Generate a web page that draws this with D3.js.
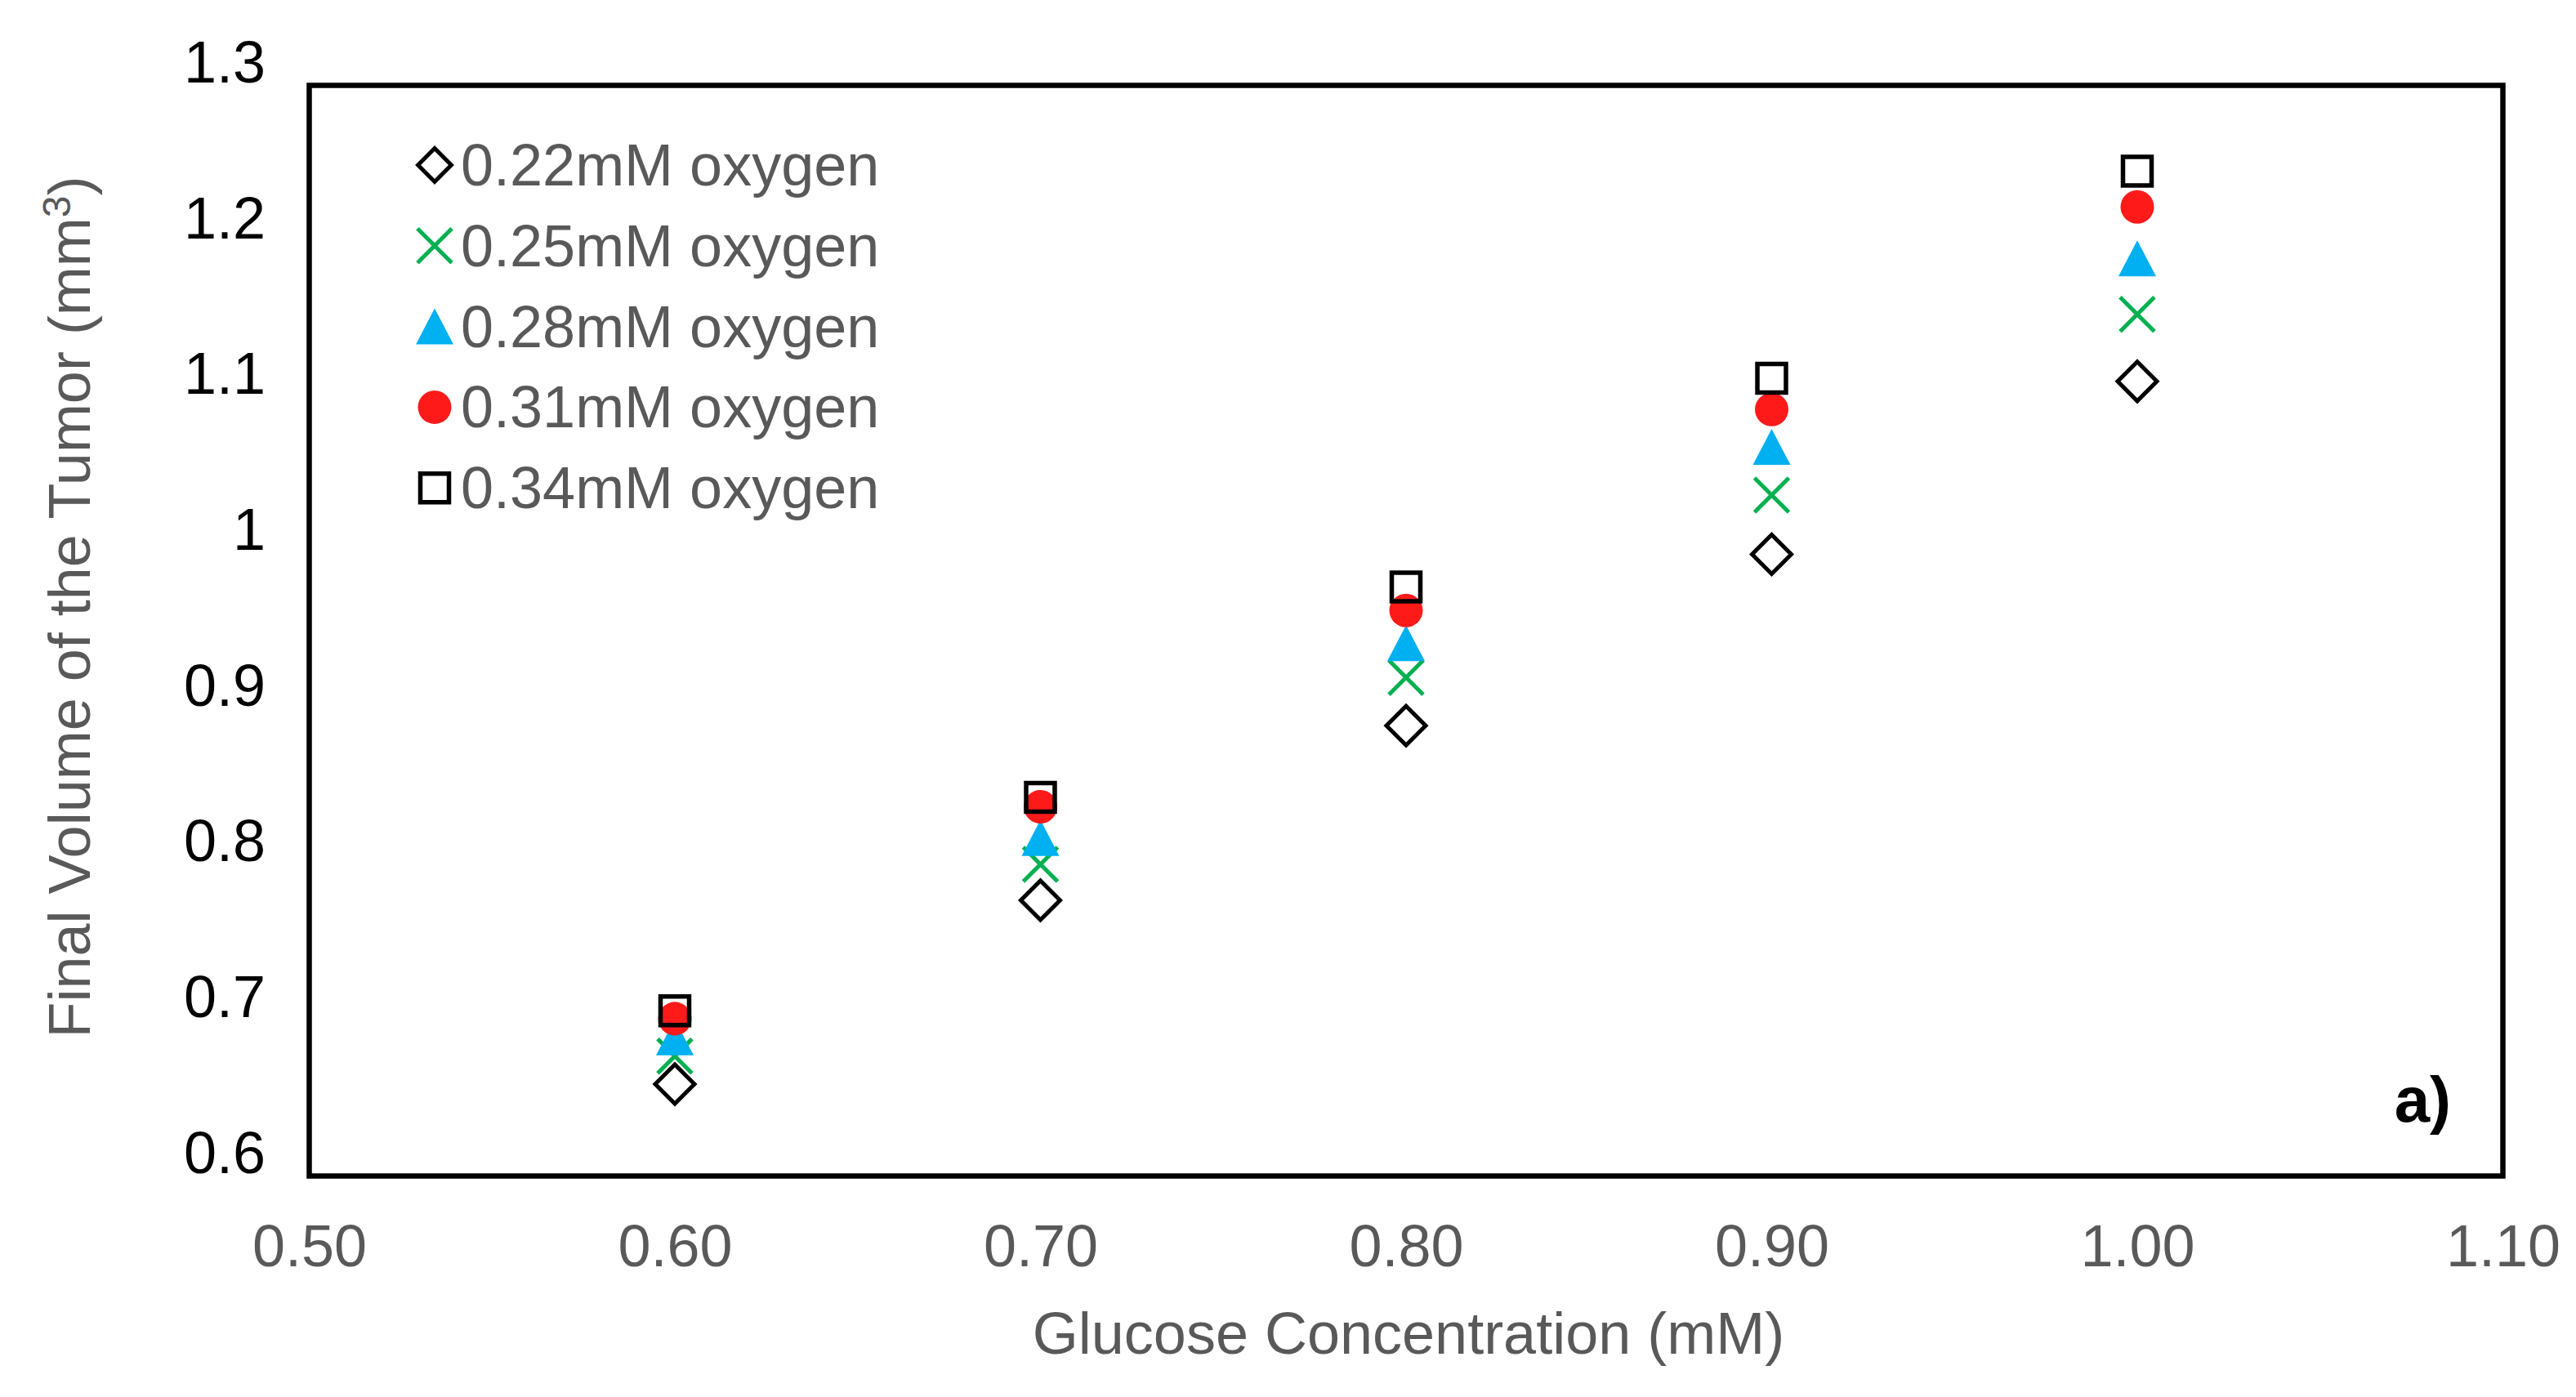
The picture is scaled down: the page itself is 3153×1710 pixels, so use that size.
<!DOCTYPE html>
<html>
<head>
<meta charset="utf-8">
<title>Final Volume of the Tumor</title>
<script src="https://cdn.jsdelivr.net/npm/d3@7"></script>
<style>
	html, body { margin: 0; padding: 0; background: #fff; }
	svg { display: block; font-family: "Liberation Sans", Arial, sans-serif; }
</style>
</head>
<body>
<div id="chart"></div>
<script>
(function (d3, window) {

	// glucose concentration (mM) on the x axis
	var glucose = [0.60, 0.70, 0.80, 0.90, 1.00];

	var series_names = ['0.22mM oxygen', '0.25mM oxygen', '0.28mM oxygen', '0.31mM oxygen', '0.34mM oxygen'];

	// final tumor volume (mm3), one array per oxygen level
	var vol_022 = [0.659, 0.777, 0.889, 0.999, 1.110];
	var vol_025 = [0.677, 0.800, 0.920, 1.037, 1.153];
	var vol_028 = [0.689, 0.817, 0.942, 1.068, 1.189];
	var vol_031 = [0.701, 0.837, 0.963, 1.092, 1.222];
	var vol_034 = [0.706, 0.843, 0.978, 1.112, 1.245];

	var x_ticks = [0.50, 0.60, 0.70, 0.80, 0.90, 1.00, 1.10];
	var y_ticks = [0.6, 0.7, 0.8, 0.9, 1.0, 1.1, 1.2, 1.3];

	var width = 3153;
	var height = 1710;
	var frame = {left: 378.5, right: 3063.5, top: 104.5, bottom: 1439.5};

	var grey = '#595959';
	var font_size = 72;

	// marker look for each series, same order as series_names
	var marker_styles = [
		{shape: 'diamond',  color: '#000000'},
		{shape: 'cross',    color: '#00b050'},
		{shape: 'triangle', color: '#00b0f0'},
		{shape: 'circle',   color: '#ff1a1a'},
		{shape: 'square',   color: '#000000'}
	];

	var all_values = [vol_022, vol_025, vol_028, vol_031, vol_034];

	var x = d3.scaleLinear().domain([0.5, 1.1]).range([frame.left, frame.right]);
	var y = d3.scaleLinear().domain([0.6, 1.3]).range([frame.bottom, frame.top]);

	/**
	 * Path for one marker, drawn round 0,0.
	 * k shrinks the diamond a little for the legend.
	 */
	function marker_path(shape, k) {
		k = k || 1;
		var p = d3.path();
		if ( 'diamond' == shape ) {
			var d = 24 * k;
			p.moveTo(0, -d); p.lineTo(d, 0); p.lineTo(0, d); p.lineTo(-d, 0); p.closePath();
		} else if ( 'cross' == shape ) {
			var c = 21;
			p.moveTo(-c, -c); p.lineTo(c, c);
			p.moveTo(c, -c); p.lineTo(-c, c);
		} else if ( 'triangle' == shape ) {
			p.moveTo(0, -22); p.lineTo(23, 22); p.lineTo(-23, 22); p.closePath();
		} else if ( 'circle' == shape ) {
			p.arc(0, 0, 20.5, 0, 2 * Math.PI);
		} else {
			var s = 17.5;
			p.rect(-s, -s, 2 * s, 2 * s);
		}
		return p.toString();
	}

	function style_marker(sel, st) {
		var filled = ( 'triangle' == st.shape || 'circle' == st.shape );
		sel.attr('fill', filled ? st.color : 'none')
			.attr('stroke', filled ? 'none' : st.color)
			.attr('stroke-width', 'square' == st.shape ? 5.5 : 5)
			.attr('stroke-linejoin', 'miter');
	}

	var svg = d3.select('#chart').append('svg')
		.attr('width', width)
		.attr('height', height)
		.attr('viewBox', '0 0 ' + width + ' ' + height);

	svg.append('rect').attr('width', width).attr('height', height).attr('fill', '#fff');

	// x axis labels sit under the frame
	var x_axis = svg.append('g')
		.attr('transform', 'translate(0,' + frame.bottom + ')')
		.call(d3.axisBottom(x).tickValues(x_ticks).tickFormat(d3.format('.2f')).tickSize(0).tickPadding(59.5));
	x_axis.select('.domain').remove();
	x_axis.selectAll('text')
		.attr('font-size', font_size)
		.attr('font-family', null)
		.attr('fill', grey);

	// y labels are drawn about 30px higher than the frame in the original
	var y_axis = svg.append('g')
		.attr('transform', 'translate(' + frame.left + ',-30)')
		.call(d3.axisLeft(y).tickValues(y_ticks).tickFormat(d3.format('')).tickSize(0).tickPadding(53.5));
	y_axis.select('.domain').remove();
	y_axis.selectAll('text')
		.attr('font-size', font_size)
		.attr('font-family', null)
		.attr('dy', '0.36em')
		.attr('fill', '#000');

	// plot area border
	svg.append('rect')
		.attr('x', frame.left)
		.attr('y', frame.top)
		.attr('width', frame.right - frame.left)
		.attr('height', frame.bottom - frame.top)
		.attr('fill', 'none')
		.attr('stroke', '#000')
		.attr('stroke-width', 6.5);

	// series, first one at the back like the spreadsheet does it
	all_values.forEach(function (values, i) {
		var st = marker_styles[i];
		var pts = glucose.map(function (g, j) { return {x: g, y: values[j]}; });
		svg.append('g')
			.attr('class', 'series series-' + i)
			.selectAll('path')
			.data(pts)
			.enter()
			.append('path')
			.attr('d', marker_path(st.shape))
			.attr('transform', function (d) { return 'translate(' + x(d.x) + ',' + y(d.y) + ')'; })
			.call(style_marker, st);
	});

	// legend in the top left of the plot
	var legend = svg.append('g').attr('transform', 'translate(532,202)');
	var rows = legend.selectAll('g')
		.data(series_names)
		.enter()
		.append('g')
		.attr('transform', function (d, i) { return 'translate(0,' + (i * 98.8) + ')'; });

	rows.append('path')
		.attr('d', function (d, i) { return marker_path(marker_styles[i].shape, 0.85); })
		.each(function (d, i) { d3.select(this).call(style_marker, marker_styles[i]); });

	rows.append('text')
		.attr('x', 32)
		.attr('y', 25)
		.attr('font-size', font_size)
		.attr('fill', grey)
		.text(function (d) { return d; });

	// panel letter
	svg.append('text')
		.attr('x', 3000)
		.attr('y', 1373)
		.attr('text-anchor', 'end')
		.attr('font-size', 78)
		.attr('font-weight', 'bold')
		.attr('fill', '#000')
		.text('a)');

	// axis titles
	svg.append('text')
		.attr('x', (frame.left + frame.right) / 2 + 3)
		.attr('y', 1657)
		.attr('text-anchor', 'middle')
		.attr('font-size', font_size)
		.attr('fill', grey)
		.text('Glucose Concentration (mM)');

	var y_title = svg.append('text')
		.attr('transform', 'translate(110,743) rotate(-90)')
		.attr('text-anchor', 'middle')
		.attr('font-size', font_size)
		.attr('fill', grey);
	y_title.append('tspan').text('Final Volume of the Tumor (mm');
	y_title.append('tspan').attr('font-size', 48).attr('dy', -24).text('3');
	y_title.append('tspan').attr('dy', 24).text(')');

}(d3, window));
</script>
</body>
</html>
